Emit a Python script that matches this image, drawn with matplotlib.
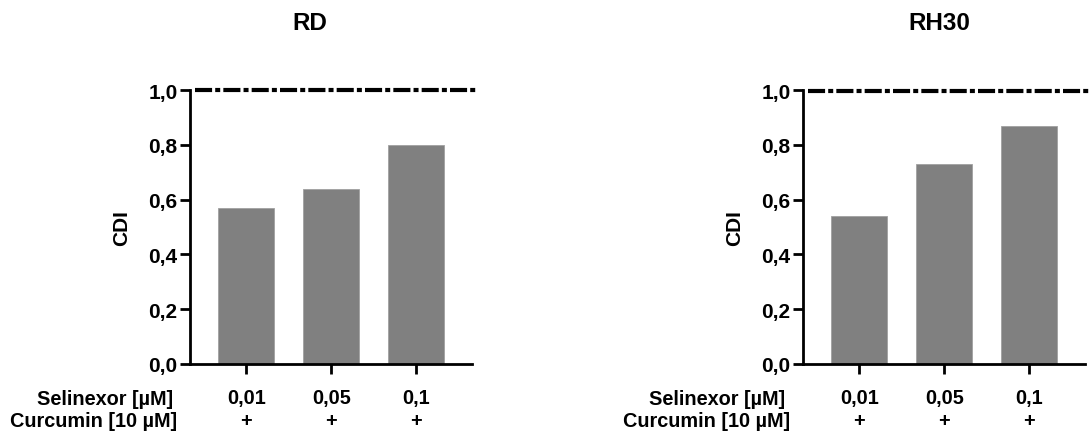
import matplotlib
matplotlib.use("Agg")
import matplotlib.pyplot as plt

plt.rcParams['font.family'] = ['Liberation Sans', 'DejaVu Sans']
plt.rcParams['font.weight'] = 'bold'

panels = ["RD", "RH30"]
selinexor_labels = ["0,01", "0,05", "0,1"]
curcumin_labels = ["+", "+", "+"]
rd_values = [0.57, 0.64, 0.80]
rh30_values = [0.54, 0.73, 0.87]
reference_lines = [1.0, 0.995]
yticks = [0.0, 0.2, 0.4, 0.6, 0.8, 1.0]
ytick_labels = ["0,0", "0,2", "0,4", "0,6", "0,8", "1,0"]
ylabel = "CDI"
row_labels = ["Selinexor [µM]", "Curcumin [10 µM]"]

W, H = 1091, 435
fig = plt.figure(figsize=(W / 100, H / 100), dpi=100)

def px(x0, y0, x1, y1):
    return [x0 / W, 1 - y1 / H, (x1 - x0) / W, (y1 - y0) / H]

axes_boxes = [px(190, 91, 472, 365), px(803, 91, 1085, 365)]
title_x = [310, 939]
row_label_x = [[173, 177], [785, 790]]
line_ends = [2.73, 3.5]
values_all = [rd_values, rh30_values]

for i, (name, vals, box) in enumerate(zip(panels, values_all, axes_boxes)):
    ax = fig.add_axes(box)
    x = list(range(len(vals)))
    ax.bar(x, vals, width=0.66, color="#808080", edgecolor="#a0a0a0", linewidth=0.6, zorder=2)
    ax.set_xlim(-0.66, 2.655)
    ax.set_ylim(0, 1.0)
    ax.set_yticks(yticks)
    ax.set_yticklabels(ytick_labels, fontsize=15, fontweight='bold')
    ax.set_xticks(x)
    ax.set_xticklabels([])
    for s in ["top", "right"]:
        ax.spines[s].set_visible(False)
    for s in ["left", "bottom"]:
        ax.spines[s].set_linewidth(2.0)
    ax.tick_params(axis='both', width=2.0, length=7, pad=2)
    ax.set_ylabel(ylabel, fontsize=15, fontweight='bold')
    ax.yaxis.set_label_coords(-0.21, 0.5)
    line, = ax.plot([-0.6, line_ends[i]], [reference_lines[i]] * 2, color="black", lw=3.0,
                    clip_on=False, zorder=3)
    line.set_dashes([4.1, 0.75, 1.2, 0.75])
    line.set_dash_capstyle('butt')
    for xi, s_lab, c_lab in zip(x, selinexor_labels, curcumin_labels):
        xd = ax.transData.transform((xi, 0))[0]
        fig.text(xd / W, 1 - 399 / H, s_lab, ha='center', va='center', fontsize=14.3, fontweight='bold')
        fig.text(xd / W, 1 - 422 / H, c_lab, ha='center', va='center', fontsize=14.3, fontweight='bold')
    fig.text(row_label_x[i][0] / W, 1 - 400 / H, row_labels[0], ha='right', va='center', fontsize=14.3, fontweight='bold')
    fig.text(row_label_x[i][1] / W, 1 - 422 / H, row_labels[1], ha='right', va='center', fontsize=14.3, fontweight='bold')
    fig.text(title_x[i] / W, 1 - 23 / H, name, ha='center', va='center', fontsize=17.5, fontweight='bold')

fig.savefig("out.png", dpi=100)
